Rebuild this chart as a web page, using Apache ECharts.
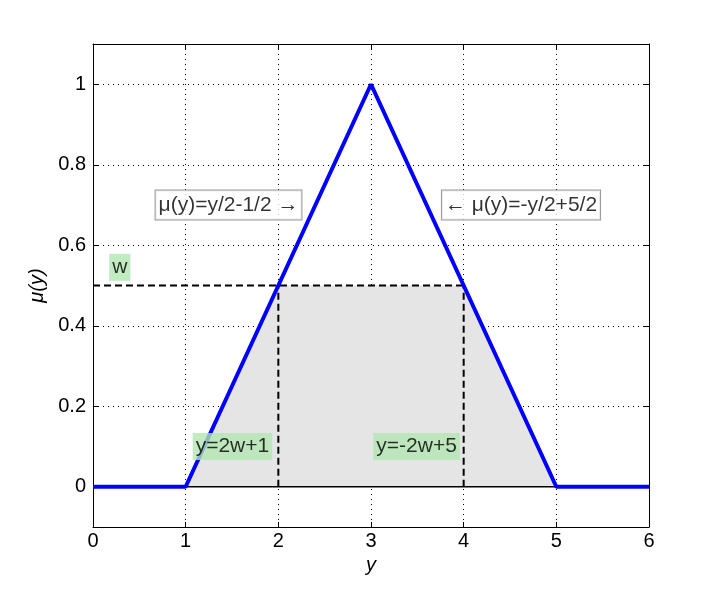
<!DOCTYPE html>
<html>
<head>
<meta charset="utf-8">
<script src="https://cdn.jsdelivr.net/npm/echarts@6/dist/echarts.min.js"></script>
<style>html,body{margin:0;padding:0;background:#fff;}#c{width:717px;height:593px;}</style>
</head>
<body>
<div id="c"></div>
<script>
// ---- data ----
const xTicks = [0, 1, 2, 3, 4, 5, 6];
const yTicks = [0, 0.2, 0.4, 0.6, 0.8, 1];
const mfX = [0, 1, 3, 5, 6];
const mfY = [0, 0, 1, 0, 0];
const shadeX = [1, 2, 4, 5];
const shadeY = [0, 0.5, 0.5, 0];
const cutX = [0, 4];
const cutY = [0.5, 0.5];
const leftDropX = [2, 2];
const leftDropY = [0, 0.5];
const rightDropX = [4, 4];
const rightDropY = [0, 0.5];
const zeroX = [0, 6];
const zeroY = [0, 0];
const boxLabels = [
  {text: 'μ(y)=y/2-1/2 →', x: 0.67, y: 0.7},
  {text: '← μ(y)=-y/2+5/2', x: 3.76, y: 0.7}
];
const greenLabels = [
  {text: 'w', x: 0.17, y: 0.545},
  {text: 'y=2w+1', x: 1.07, y: 0.1},
  {text: 'y=-2w+5', x: 3.02, y: 0.1}
];

const FONT = "'Liberation Sans', Arial, Helvetica, sans-serif";
const zip = (xs, ys) => xs.map((v, i) => [v, ys[i]]);

const chart = echarts.init(document.getElementById('c'), null, {renderer: 'canvas'});
const tickStyle = {show: true, inside: true, length: 5, lineStyle: {color: '#000', width: 1}};
const lineAx = {show: true, onZero: false, lineStyle: {color: '#000', width: 1}};

chart.setOption({
  animation: false,
  backgroundColor: '#fff',
  grid: {left: 93, top: 44, right: 68, bottom: 66, containLabel: false},
  xAxis: [
    {type: 'value', min: 0, max: 6, interval: 1, position: 'bottom',
     axisLine: lineAx, axisTick: tickStyle,
     axisLabel: {color: '#000', fontSize: 20, fontFamily: FONT, margin: 4},
     splitLine: {show: true, lineStyle: {color: '#000', type: [1, 4], width: 1}},
     name: 'y', nameLocation: 'middle', nameGap: 21,
     nameTextStyle: {color: '#000', fontSize: 20, fontFamily: FONT, fontStyle: 'italic'}},
    {type: 'value', min: 0, max: 6, interval: 1, position: 'top',
     axisLine: lineAx, axisTick: tickStyle, axisLabel: {show: false}, splitLine: {show: false}}
  ],
  yAxis: [
    {type: 'value', min: -0.1, max: 1.1, position: 'left',
     axisLine: lineAx,
     axisTick: Object.assign({customValues: yTicks}, tickStyle),
     axisLabel: {customValues: yTicks, color: '#000', fontSize: 20, fontFamily: FONT, margin: 7,
                 formatter: v => String(Math.round(v * 10) / 10)},
     splitLine: {show: false},
     name: 'μ(y)', nameLocation: 'middle', nameGap: 42,
     nameTextStyle: {color: '#000', fontSize: 20, fontFamily: FONT, fontStyle: 'italic'}},
    {type: 'value', min: -0.1, max: 1.1, position: 'right',
     axisLine: lineAx,
     axisTick: Object.assign({customValues: yTicks}, tickStyle),
     axisLabel: {show: false}, splitLine: {show: false}}
  ],
  series: [
    {type: 'line', data: zip(shadeX, shadeY), symbol: 'none', z: 1,
     lineStyle: {width: 0, opacity: 0}, areaStyle: {color: '#e5e5e5', opacity: 1},
     markLine: {silent: true, symbol: 'none', label: {show: false}, z: 1,
       lineStyle: {color: '#000', type: [1, 4], width: 1},
       data: yTicks.filter(v => v !== 0).map(v => ({yAxis: v}))}},
    {type: 'line', data: zip(zeroX, zeroY), symbol: 'none', z: 2,
     lineStyle: {color: '#000', width: 1.3}},
    {type: 'line', data: zip(cutX, cutY), symbol: 'none', z: 3,
     lineStyle: {color: '#000', width: 2, type: [7, 4]}},
    {type: 'line', data: zip(leftDropX, leftDropY), symbol: 'none', z: 3,
     lineStyle: {color: '#000', width: 2, type: [7, 4]}},
    {type: 'line', data: zip(rightDropX, rightDropY), symbol: 'none', z: 3,
     lineStyle: {color: '#000', width: 2, type: [7, 4]}},
    {type: 'line', data: zip(mfX, mfY), symbol: 'none', z: 4,
     lineStyle: {color: '#0000ff', width: 4}},
    {type: 'scatter', symbolSize: 1, z: 5, itemStyle: {color: 'rgba(0,0,0,0)'},
     data: boxLabels.map(d => ({value: [d.x, d.y], label: {formatter: d.text}})),
     label: {show: true, position: 'right', distance: 0, color: '#000', fontSize: 21, fontFamily: FONT,
             backgroundColor: '#fff', borderColor: '#7f7f7f', borderWidth: 1, padding: [4, 3, 4, 3]}},
    {type: 'scatter', symbolSize: 1, z: 5, itemStyle: {color: 'rgba(0,0,0,0)'},
     data: greenLabels.map(d => ({value: [d.x, d.y], label: {formatter: d.text}})),
     label: {show: true, position: 'right', distance: 0, color: '#000', fontSize: 21, fontFamily: FONT,
             backgroundColor: '#b3e6b3', padding: [3, 3, 3, 3]}}
  ]
});
</script>
</body>
</html>
